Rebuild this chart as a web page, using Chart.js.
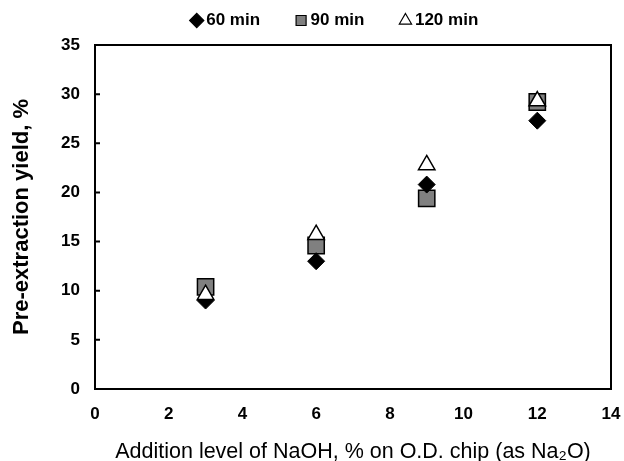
<!DOCTYPE html>
<html>
<head>
<meta charset="utf-8">
<script src="https://cdn.jsdelivr.net/npm/chart.js@4/dist/chart.umd.min.js"></script>
<style>
html,body{margin:0;padding:0;background:#fff;}
#wrap{width:624px;height:461px;}
</style>
</head>
<body>
<div id="wrap"><canvas id="c" width="624" height="461"></canvas></div>
<script>
const additionLevels = [3, 6, 9, 12];
const yield60 = [9.0, 13.0, 20.8, 27.3];
const yield90 = [10.4, 14.6, 19.4, 29.2];
const yield120 = [9.6, 15.7, 22.8, 29.3];
const seriesNames = ['60 min', '90 min', '120 min'];
const xTicks = [0, 2, 4, 6, 8, 10, 12, 14];
const yTicks = [0, 5, 10, 15, 20, 25, 30, 35];

function pts(ys){ return additionLevels.map((x,i)=>({x:x, y:ys[i]})); }

const frame = {
  id:'frame',
  afterLayout(chart){
    const lg = chart.legend;
    if (lg) {
      lg.left += 31; lg.right += 31;
      lg.top = -28;
    }
  },
  afterDatasetsDraw(chart){
    const {ctx, chartArea:a, scales} = chart;
    ctx.save();
    ctx.strokeStyle='#000';
    ctx.lineWidth=2;
    ctx.strokeRect(a.left, a.top, a.right-a.left, a.bottom-a.top);
    ctx.beginPath();
    yTicks.forEach(v=>{
      const y = scales.y.getPixelForValue(v);
      ctx.moveTo(a.left, y); ctx.lineTo(a.left+5, y);
    });
    ctx.stroke();
    ctx.restore();
  }
};

Chart.defaults.font.family = '"Liberation Sans", Arial, sans-serif';
Chart.defaults.color = '#000';

new Chart(document.getElementById('c'), {
  type:'scatter',
  data:{
    datasets:[
      {label:seriesNames[0], data:pts(yield60), pointStyle:'rectRot', pointRadius:8.5, pointHoverRadius:8.5,
        backgroundColor:'#000', borderColor:'#000', borderWidth:1, order:2},
      {label:seriesNames[1], data:pts(yield90), pointStyle:'rect', pointRadius:11.5, pointHoverRadius:11.5,
        backgroundColor:'#808080', borderColor:'#000', borderWidth:1.5, order:3},
      {label:seriesNames[2], data:pts(yield120), pointStyle:'triangle', pointRadius:9.5, pointHoverRadius:9.5,
        backgroundColor:'#fff', borderColor:'#000', borderWidth:1.5, order:1}
    ]
  },
  options:{
    responsive:false,
    animation:false,
    layout:{padding:{top:0, right:12, left:0, bottom:0}},
    plugins:{
      tooltip:{enabled:false},
      legend:{
        position:'top',
        maxHeight:45,
        labels:{
          usePointStyle:true,
          boxWidth:2, boxHeight:10,
          padding:40,
          font:{size:17, weight:'bold'},
          color:'#000',
          generateLabels(chart){
            return chart.data.datasets.map((d,i)=>({
              text:d.label, fillStyle:d.backgroundColor, strokeStyle:'#000',
              lineWidth:1.2, pointStyle:d.pointStyle, datasetIndex:i, hidden:false, fontColor:'#000'
            }));
          }
        }
      }
    },
    scales:{
      x:{
        type:'linear', min:0, max:14,
        afterBuildTicks(s){ s.ticks = xTicks.map(v=>({value:v})); },
        grid:{display:false, drawTicks:false},
        border:{display:false},
        ticks:{padding:15, font:{size:17, weight:'bold'}, color:'#000', maxRotation:0},
        title:{display:true, text:'Addition level of NaOH, % on O.D. chip (as Na\u2082O)',
          font:{size:21.5}, color:'#000', padding:{top:2,bottom:-4}},
        afterFit(s){ s.height = 72; s.paddingLeft = 0; s.paddingRight = 0; }
      },
      y:{
        type:'linear', min:0, max:35,
        afterBuildTicks(s){ s.ticks = yTicks.map(v=>({value:v})); },
        grid:{display:false, drawTicks:false},
        border:{display:false},
        ticks:{padding:15, font:{size:17, weight:'bold'}, color:'#000'},
        title:{display:true, text:'Pre-extraction yield, %', font:{size:22, weight:'bold'}, color:'#000', padding:{top:9,bottom:2}},
        afterFit(s){ s.width = 95; s.paddingTop = 0; s.paddingBottom = 0; }
      }
    }
  },
  plugins:[frame]
});
</script>
</body>
</html>
